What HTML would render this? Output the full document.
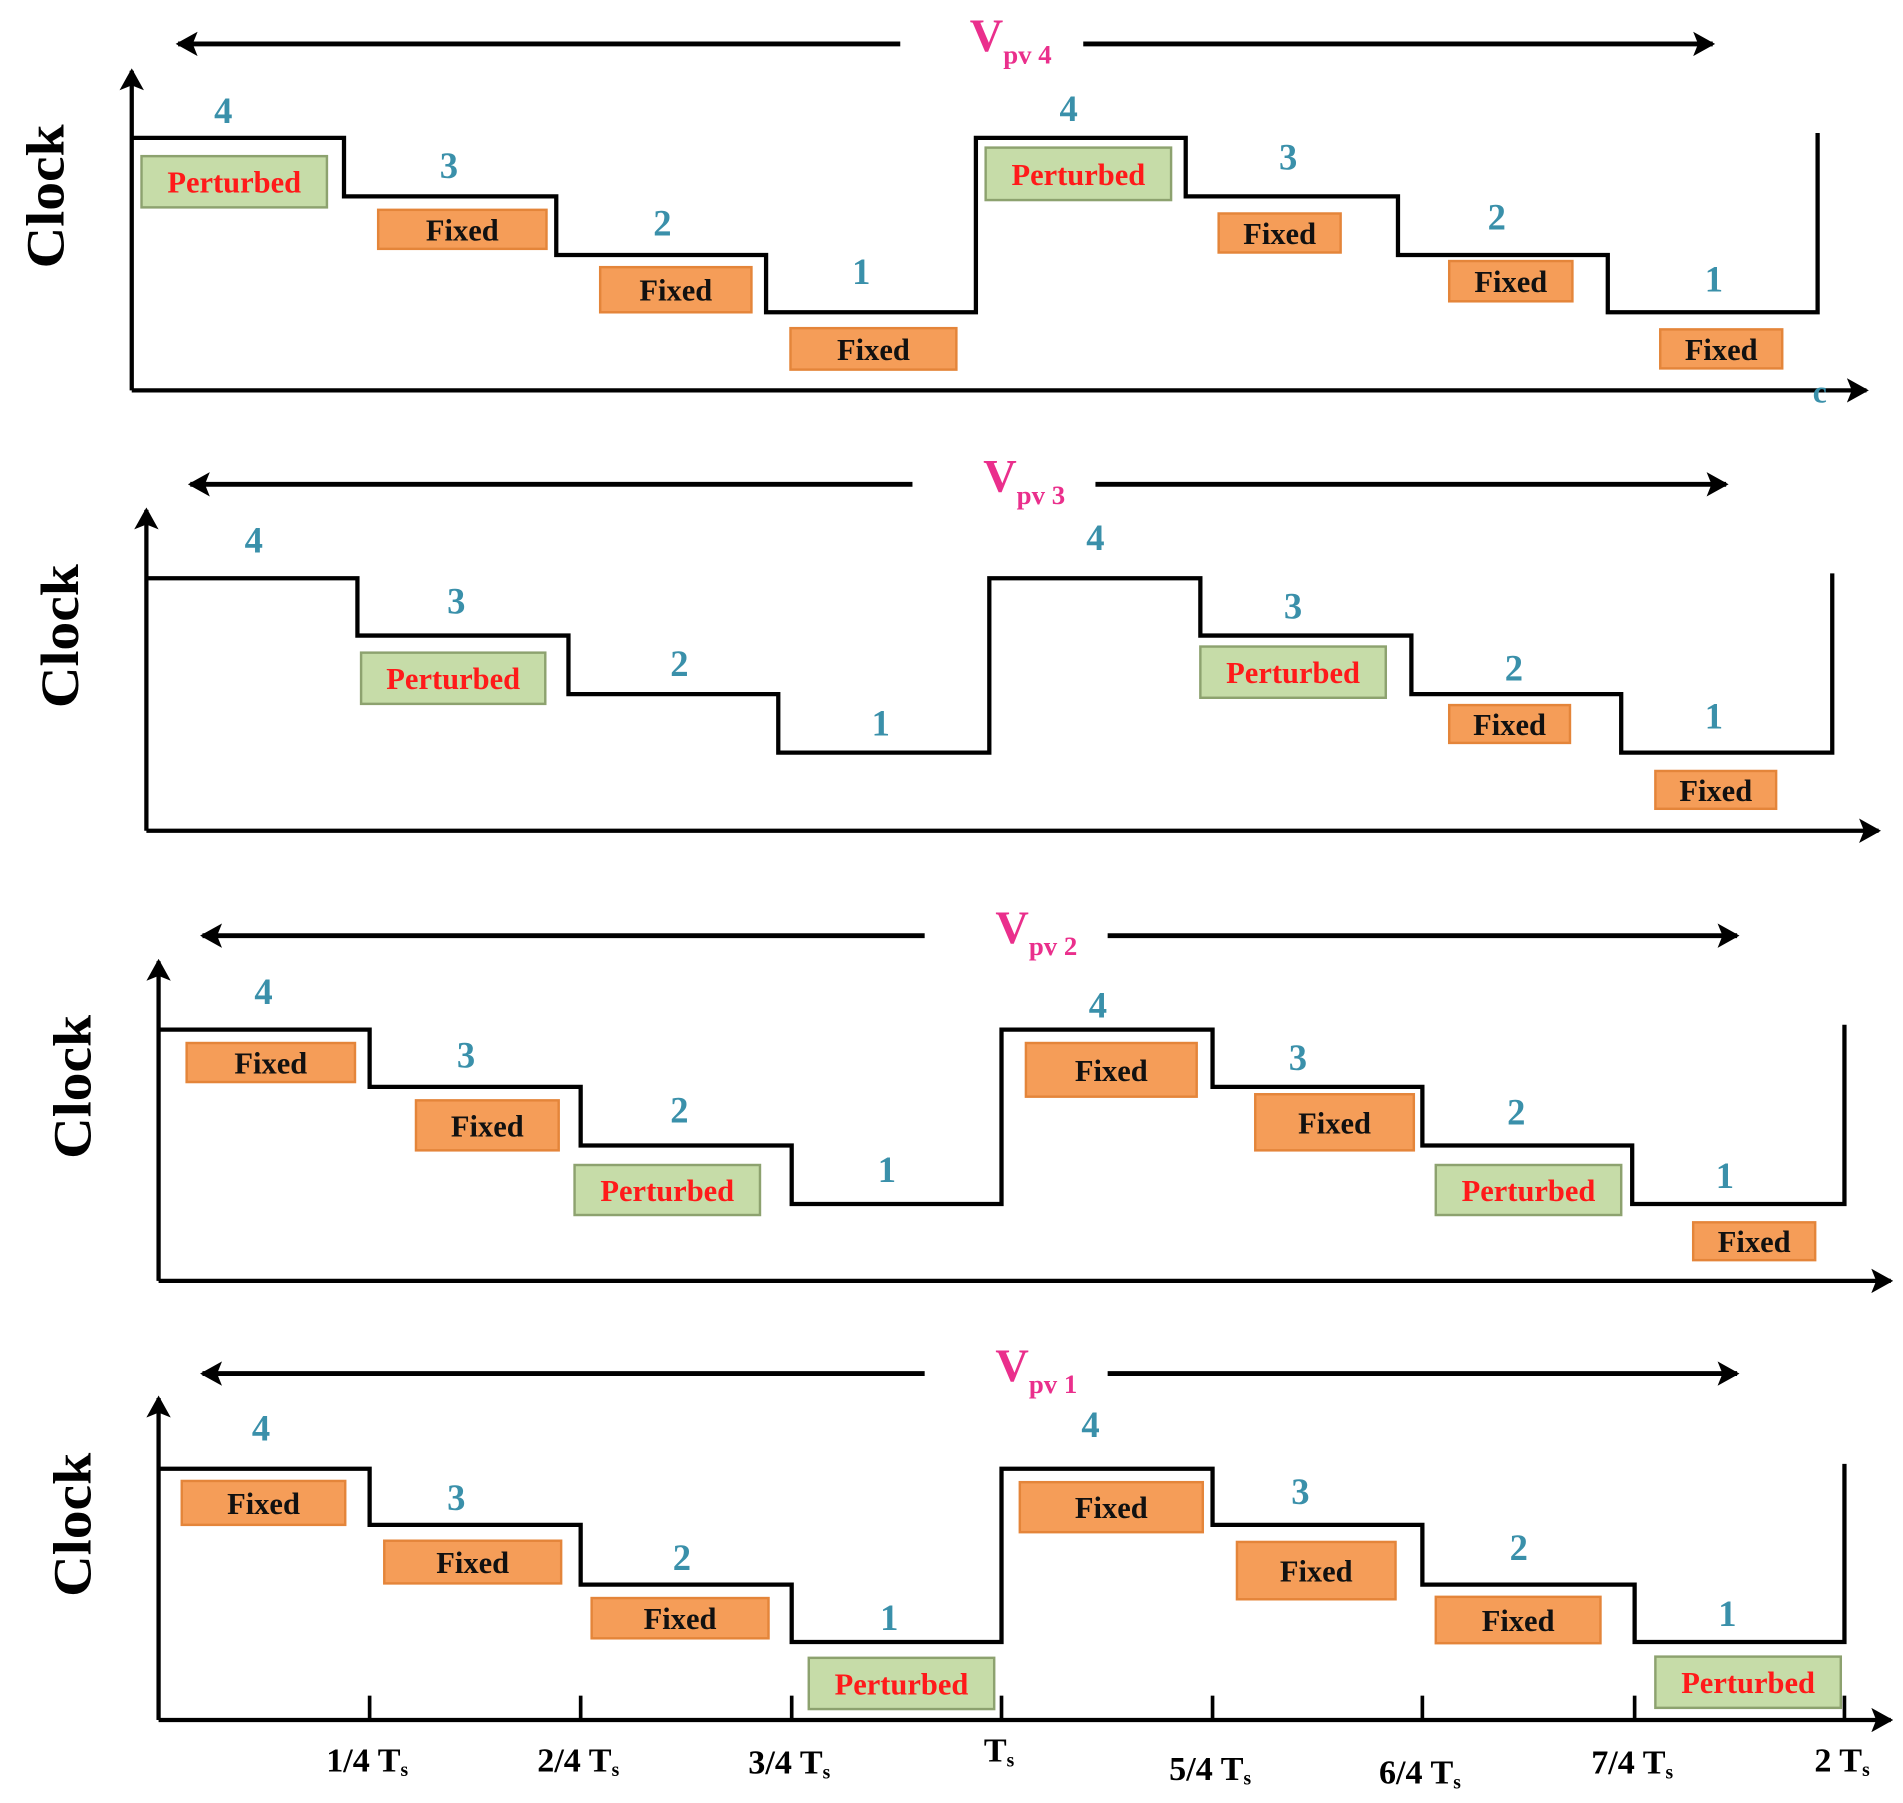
<!DOCTYPE html>
<html><head><meta charset="utf-8"><style>
html,body{margin:0;padding:0;background:#fff;}
svg{display:block;}
text{font-family:"Liberation Serif",serif;font-weight:bold;}
</style></head><body>
<svg id="chart" width="1903" height="1803" viewBox="0 0 1560 1478" preserveAspectRatio="none" xmlns="http://www.w3.org/2000/svg">
<defs><marker id="ah" markerWidth="18" markerHeight="20" refX="16" refY="10" orient="auto" markerUnits="userSpaceOnUse"><path d="M0,0 L18,10 L0,20 L4,10 z" fill="#000"/></marker></defs>
</svg>
<script>
// Data
const panelNames = ["4","3","2","1"];
const levelSeq = [4,3,2,1,4,3,2,1];
const statusPv4 = ["Perturbed","Fixed","Fixed","Fixed","Perturbed","Fixed","Fixed","Fixed"];
const statusPv3 = ["","Perturbed","","","","Perturbed","Fixed","Fixed"];
const statusPv2 = ["Fixed","Fixed","Perturbed","","Fixed","Fixed","Perturbed","Fixed"];
const statusPv1 = ["Fixed","Fixed","Fixed","Perturbed","Fixed","Fixed","Fixed","Perturbed"];
const tickLabels = ["1/4 T","2/4 T","3/4 T","T","5/4 T","6/4 T","7/4 T","2 T"];

// Layout (not data): box rects [x,y,w,h] and number positions
const boxes = [
 [[116,128,152,42],[310,172,138,32],[492,219,124,37],[648,269,136,34],[808,121,152,43],[999,175,100,32],[1188,214,101,33],[1361,270,100,32]],
 [null,[296,535,151,42],null,null,null,[984,530,152,42],[1188,578,99,31],[1357,632,99,31]],
 [[153,855,138,32],[341,902,117,41],[471,955,152,41],null,[841,855,140,44],[1029,897,130,46],[1177,955,152,41],[1388,1002,100,31]],
 [[149,1214,134,36],[315,1263,145,35],[485,1310,145,33],[663,1359,152,42],[836,1215,150,41],[1014,1264,130,47],[1177,1309,135,38],[1357,1358,152,42]]
];
const nums = [
 [[183,90],[368,135],[543,182],[706,222],[876,88],[1056,128],[1227,177],[1405,228]],
 [[208,442],[374,492],[557,543],[722,592],[898,440],[1060,496],[1241,547],[1405,586]],
 [[216,812],[382,864],[557,909],[727,958],[900,823],[1064,866],[1243,911],[1414,963]],
 [[214,1170],[374,1227],[559,1276],[729,1325],[894,1167],[1066,1222],[1245,1268],[1416,1322]]
];
const panels = [
 {x0:108,y0:320,x1:1530,top:58,arrowY:36,aL:146,aLe:738,aR:888,aRe:1404,lx:795,stepX:[108,282,456,628,800,972,1146,1318,1490],lvlY:{4:113,3:161,2:209,1:256}},
 {x0:120,y0:681,x1:1540,top:418,arrowY:397,aL:156,aLe:748,aR:898,aRe:1415,lx:806,stepX:[120,293,466,638,811,984,1157,1329,1502],lvlY:{4:474,3:521,2:569,1:617}},
 {x0:130,y0:1050,x1:1550,top:788,arrowY:767,aL:166,aLe:758,aR:908,aRe:1424,lx:816,stepX:[130,303,476,649,821,994,1166,1338,1512],lvlY:{4:844,3:891,2:939,1:987}},
 {x0:130,y0:1410,x1:1550,top:1146,arrowY:1126,aL:166,aLe:758,aR:908,aRe:1424,lx:816,stepX:[130,303,476,649,821,994,1166,1340,1512],lvlY:{4:1204,3:1250,2:1299,1:1346}}
];
const statuses=[statusPv4,statusPv3,statusPv2,statusPv1];
const svg=document.getElementById('chart');
const NS="http://www.w3.org/2000/svg";
function mk(tag,attrs,parent){const e=document.createElementNS(NS,tag);for(const k in attrs)e.setAttribute(k,attrs[k]);(parent||svg).appendChild(e);return e;}

panels.forEach((p,pi)=>{
 const g=mk('g',{});
 
 
 const ya=mk('line',{x1:p.x0,y1:p.y0,x2:p.x0,y2:p.top,stroke:'#000','stroke-width':3.5,'marker-end':'url(#ah)'},g);
 
 
 const xa=mk('line',{x1:p.x0,y1:p.y0,x2:p.x1,y2:p.y0,stroke:'#000','stroke-width':3.5,'marker-end':'url(#ah)'},g);
 
 
 const yt=mk('text',{x:0,y:0,'font-size':44,fill:'#000','text-anchor':'middle',textLength:118,lengthAdjust:'spacingAndGlyphs',transform:`translate(${p.x0-56},${(p.top+p.y0)/2-28}) rotate(-90)`},g);
 yt.textContent='Clock';
 
 
 const a1=mk('line',{x1:p.aLe,y1:p.arrowY,x2:p.aL,y2:p.arrowY,stroke:'#000','stroke-width':4,'marker-end':'url(#ah)'},g);
 
 
 const a2=mk('line',{x1:p.aR,y1:p.arrowY,x2:p.aRe,y2:p.arrowY,stroke:'#000','stroke-width':4,'marker-end':'url(#ah)'},g);
 
 
 const lt=mk('text',{x:p.lx,y:p.arrowY+6,'font-size':38,fill:'#ea2f8c'},g);
 lt.innerHTML='V<tspan font-size="22" dy="10">pv '+panelNames[pi]+'</tspan>';
 
 
 let d=`M${p.stepX[0]},${p.lvlY[levelSeq[0]]}`;
 levelSeq.forEach((lv,i)=>{
   const y=p.lvlY[lv];
   d+=` L${p.stepX[i]},${y} L${p.stepX[i+1]},${y}`;
 });
 d+=` L${p.stepX[8]},${p.lvlY[4]-4}`;
 const sl=mk('path',{d:d,fill:'none',stroke:'#000','stroke-width':3.5},g);
 
 
 levelSeq.forEach((lv,i)=>{
   const np=nums[pi][i];
   const n=mk('text',{x:np[0],y:np[1]+11,'font-size':30,fill:'#3a90aa','text-anchor':'middle'},g);
   n.textContent=lv;
   
   
   const st=statuses[pi][i];
   const b=boxes[pi][i];
   if(st&&b){
     const pert=st==='Perturbed';
     const [bx,by,w,h]=b;
     const r=mk('rect',{x:bx,y:by,width:w,height:h,fill:pert?'#c6dca8':'#f59d58',stroke:pert?'#8da26f':'#e4853a','stroke-width':2},g);
     
     
     const t=mk('text',{x:bx+w/2,y:by+h/2+9,'font-size':25,fill:pert?'#ff1a1a':'#111','text-anchor':'middle'},g);
     t.textContent=st;
     
     
   }
 });
 if(pi===3){
   tickLabels.forEach((lab,i)=>{
     const x=p.stepX[i+1];
     const tk=mk('line',{x1:x,y1:p.y0-20,x2:x,y2:p.y0,stroke:'#000','stroke-width':3},g);
     
     
     const yy=[1452,1452,1454,1444,1459,1462,1454,1452][i];
     const t=mk('text',{x:x-2,y:yy,'font-size':28,fill:'#000','text-anchor':'middle'},g);
     t.innerHTML=lab+'<tspan font-size="16" dy="4">s</tspan>';
     
     
   });
 }
});
const c=mk('text',{x:1486,y:330,'font-size':26,fill:'#3a90aa'});
c.textContent='c';


</script>
</body></html>
